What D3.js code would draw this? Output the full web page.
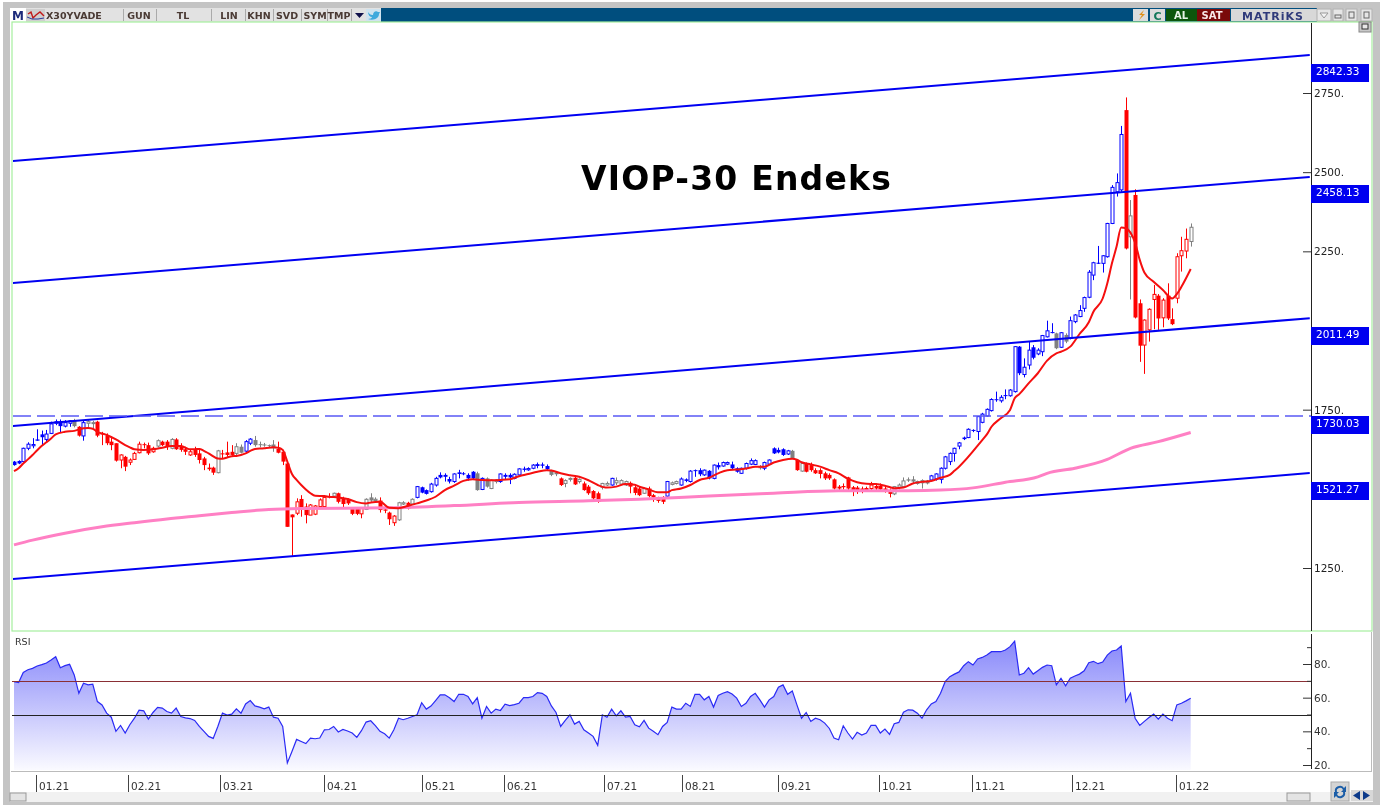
<!DOCTYPE html>
<html>
<head>
<meta charset="utf-8">
<title>VIOP-30 Endeks</title>
<script src="https://cdnjs.cloudflare.com/ajax/libs/d3/7.8.5/d3.min.js"></script>
<style>
    html, body { margin: 0; padding: 0; background: #fff; overflow: hidden; }
    svg { display: block; filter: blur(0.35px); }
    text { font-family: "DejaVu Sans", Verdana, sans-serif; }
</style>
</head>
<body>
<div id="chart"></div>
<script>
// daily candles
var opens = [1586,1588,1586,1628,1636,1656,1672,1656,1675,1707,1712,1698,1707,1717,1696,1667,1707,1707,1712,1675,
    1667,1649,1644,1591,1601,1584,1593,1614,1641,1638,1617,1635,1649,1649,1628,1656,1633,1625,1607,1623,
    1612,1596,1567,1567,1551,1612,1615,1617,1612,1633,1619,1644,1654,1641,1640,1638,1640,1626,1617,1580,
    1419,1423,1468,1444,1417,1420,1444,1444,1477,1477,1486,1470,1465,1438,1438,1421,1435,1473,1463,1463,
    1435,1425,1393,1402,1452,1456,1452,1473,1505,1496,1491,1512,1544,1544,1531,1523,1552,1549,1544,1554,
    1549,1498,1533,1501,1523,1523,1544,1544,1533,1544,1564,1560,1565,1578,1577,1572,1557,1552,1533,1517,
    1530,1535,1523,1517,1507,1493,1486,1505,1512,1512,1519,1515,1512,1519,1505,1501,1486,1501,1480,1470,
    1470,1477,1514,1517,1512,1530,1523,1559,1559,1544,1557,1533,1575,1572,1578,1577,1565,1549,1565,1578,
    1577,1572,1565,1578,1628,1623,1625,1610,1620,1591,1556,1580,1575,1559,1559,1549,1544,1530,1507,1509,
    1536,1505,1504,1501,1498,1501,1509,1509,1501,1496,1484,1505,1507,1530,1530,1517,1519,1526,1528,1531,
    1530,1565,1586,1612,1635,1662,1662,1686,1681,1710,1730,1747,1783,1778,1796,1794,1807,1949,1861,1891,
    1947,1926,1933,1980,1995,1991,1947,1986,1975,2028,2044,2070,2105,2175,2214,2212,2233,2338,2438,2444,
    2696,2296,2428,2086,1954,2002,2098,2110,2040,2110,2036,2102,2236,2251,2281];
var highs = [1588,1590,1630,1647,1660,1688,1684,1686,1712,1719,1719,1717,1717,1721,1698,1715,1717,1715,1715,1680,
    1675,1665,1644,1609,1604,1596,1617,1649,1646,1646,1633,1656,1652,1654,1660,1660,1644,1633,1623,1633,
    1623,1601,1580,1570,1623,1623,1649,1638,1644,1640,1654,1660,1667,1649,1645,1640,1654,1649,1623,1583,
    1419,1470,1480,1454,1452,1449,1470,1475,1486,1488,1488,1475,1470,1438,1441,1438,1470,1486,1473,1473,
    1444,1428,1417,1459,1461,1459,1470,1509,1507,1498,1519,1538,1552,1549,1538,1549,1560,1553,1549,1556,
    1554,1536,1536,1530,1530,1549,1549,1549,1549,1565,1570,1568,1578,1583,1583,1577,1560,1554,1536,1530,
    1536,1538,1533,1523,1512,1496,1491,1519,1523,1535,1536,1530,1526,1523,1512,1509,1505,1507,1484,1475,
    1477,1525,1523,1526,1536,1533,1559,1561,1565,1561,1559,1577,1583,1586,1586,1586,1568,1567,1583,1596,
    1593,1575,1586,1593,1631,1630,1628,1623,1623,1593,1583,1583,1583,1565,1565,1554,1549,1533,1512,1517,
    1538,1509,1509,1507,1507,1522,1517,1517,1507,1501,1509,1517,1536,1536,1540,1526,1530,1528,1544,1549,
    1568,1604,1615,1630,1648,1665,1691,1688,1728,1740,1754,1786,1807,1796,1814,1815,1951,1951,1912,1965,
    1954,1944,1986,2031,2023,1993,1995,1991,2044,2052,2080,2107,2191,2217,2267,2238,2340,2459,2496,2646,
    2736,2412,2446,2098,2035,2070,2144,2115,2102,2149,2070,2244,2296,2322,2338];
var lows = [1573,1578,1584,1622,1628,1652,1635,1649,1673,1701,1677,1694,1696,1694,1665,1652,1691,1691,1663,1638,
    1638,1622,1586,1565,1556,1575,1591,1612,1628,1607,1614,1631,1635,1623,1625,1623,1617,1607,1604,1601,
    1580,1559,1557,1544,1549,1596,1601,1604,1607,1612,1614,1638,1633,1631,1633,1630,1617,1612,1575,1380,
    1288,1417,1412,1391,1417,1417,1442,1442,1470,1475,1454,1438,1449,1417,1417,1407,1433,1459,1458,1425,
    1423,1386,1383,1399,1449,1435,1449,1470,1486,1482,1488,1507,1533,1523,1517,1519,1533,1543,1526,1528,
    1494,1496,1504,1499,1517,1519,1528,1515,1530,1540,1554,1557,1562,1565,1565,1560,1540,1540,1509,1505,
    1523,1512,1517,1494,1481,1465,1456,1498,1509,1510,1512,1512,1509,1486,1480,1477,1484,1473,1459,1456,
    1452,1475,1511,1514,1510,1521,1520,1538,1540,1541,1530,1530,1561,1570,1575,1561,1551,1547,1561,1575,
    1575,1561,1559,1575,1610,1612,1604,1607,1594,1557,1554,1552,1554,1547,1533,1528,1528,1498,1496,1498,
    1496,1477,1484,1486,1494,1496,1496,1491,1488,1473,1480,1498,1504,1522,1515,1513,1501,1514,1526,1526,
    1517,1561,1575,1586,1625,1654,1660,1679,1654,1707,1728,1744,1775,1772,1783,1791,1804,1859,1852,1877,
    1909,1922,1919,1978,1991,1941,1945,1960,1972,2023,2042,2059,2102,2159,2210,2183,2230,2336,2423,2438,
    2256,2098,2038,1901,1863,1965,2004,2002,2010,2033,2017,2086,2186,2228,2265];
var closes = [1575,1580,1628,1641,1640,1652,1663,1673,1705,1712,1698,1709,1715,1698,1668,1709,1712,1709,1668,1672,
    1644,1638,1589,1607,1570,1591,1612,1641,1638,1612,1628,1652,1638,1633,1656,1625,1623,1617,1617,1607,
    1591,1575,1562,1551,1620,1609,1607,1607,1633,1614,1649,1657,1638,1638,1637,1635,1628,1614,1586,1380,
    1410,1459,1438,1417,1449,1446,1465,1473,1473,1486,1459,1452,1454,1421,1421,1438,1467,1463,1467,1433,
    1431,1404,1414,1456,1456,1438,1467,1507,1488,1484,1515,1533,1536,1538,1523,1547,1547,1546,1533,1533,
    1496,1533,1507,1528,1528,1547,1538,1536,1546,1563,1560,1564,1575,1572,1573,1562,1544,1546,1512,1526,
    1533,1514,1530,1496,1486,1470,1459,1517,1517,1533,1526,1526,1523,1507,1487,1480,1501,1477,1473,1462,
    1459,1523,1519,1523,1531,1525,1556,1556,1546,1559,1533,1575,1568,1583,1583,1565,1554,1565,1580,1589,
    1589,1565,1583,1591,1612,1615,1607,1620,1596,1559,1580,1554,1559,1549,1547,1533,1533,1501,1501,1505,
    1501,1494,1496,1496,1501,1512,1501,1498,1491,1484,1507,1512,1525,1526,1523,1523,1526,1517,1541,1547,
    1565,1601,1612,1628,1645,1657,1688,1683,1728,1736,1751,1782,1780,1789,1793,1812,1949,1865,1884,1938,
    1914,1938,1984,1999,1992,1944,1993,1965,2031,2049,2063,2104,2184,2214,2212,2236,2338,2452,2467,2619,
    2259,2362,2041,1952,2033,2067,2114,2038,2096,2038,2020,2233,2252,2288,2326];
// b = blue, g = gray, r = red candle
var trend = ('bbbbbbbbbb' + 'bbbgrbggrr' + 'rrrrrrrrrr' + 'rgrrgrrrrr' + 'rrrrgrrrgg' + 'bbgggggrrr'
    + 'rrrrrrrrrg' + 'rrrrrrgggr' + 'rrrggrgbbb' + 'bbbbbbbbbb' + 'gbgggbbbbb' + 'bbbbbbggrg'
    + 'grgrrrrggb' + 'gggrrrgrrr' + 'rbggbbbbbb' + 'bbbbbbbbbb' + 'bgbbbbbbgr' + 'grrrrrrrrr'
    + 'rrrrrrrrrr' + 'ggggggggbb' + 'bbbbbbbbbb' + 'bbbbbbbbbb' + 'bbbbbgbgbb' + 'bbbbbbbbbb'
    + 'rgrrrrrrrr' + 'rrrrg').split('');

// red moving average: bar number + value
var fastBars = [0,1,2,3,4,5,6,7,8,9,11,13,15,16,17,18,20,22,24,25,26,28,30,32,34,36,37,38,39,40,41,42,44,45,46,47,48,49,50,51,52,54,55,56,57,58,59,60,61,62,63,64,65,
    67,68,70,72,74,76,77,79,81,83,85,87,89,91,93,95,97,99,101,103,105,107,109,111,113,115,116,118,120,122,124,126,128,130,132,134,
    135,137,139,141,142,144,146,148,150,152,154,156,158,160,162,164,166,168,169,170,172,174,176,178,180,182,184,186,188,190,192,194,196,198,200,202,203,204,
    209,210,211,213,215,216,217,219,221,223,225,226,228,230,232,233,235,236,237,238,239,240,241,242,243,244,246,248,250,251,252,254];
var fastValues = [1556,1565,1580,1593,1607,1622,1636,1647,1659,1672,1680,1683,1691,1692,1690,1680,1670,1656,1638,1631,1625,1623,1625,1630,1635,1635,1630,1625,1625,1626,1620,1612,1596,1595,1599,1603,1604,1607,1612,1620,1626,1628,1630,1631,1630,1623,1586,1547,1528,1512,1498,1486,1478,
    1477,1475,1473,1468,1458,1454,1457,1459,1440,1439,1446,1454,1463,1475,1496,1510,1525,1530,1528,1527,1528,1530,1540,1547,1554,1559,1558,1549,1543,1538,1527,1512,1504,1507,1515,1513,
    1507,1498,1489,1489,1496,1501,1512,1528,1535,1549,1559,1561,1564,1570,1570,1583,1591,1595,1592,1584,1577,1570,1559,1549,1532,1521,1516,1515,1510,1502,1504,1517,1522,1525,1535,1544,1557,1570,
    1654,1672,1696,1723,1749,1786,1799,1833,1865,1905,1928,1933,1949,1989,2026,2059,2101,2149,2212,2265,2325,2323,2309,2277,2223,2183,2154,2128,2101,2115,2138,2194];

// pink moving average
var slowBars = [0,4,11,19,26,33,40,47,55,62,81,95,109,124,135,150,164,178,193,200,207,214,221,223,229,236,241,247,254];
var slowValues = [1323,1338,1360,1380,1393,1405,1415,1425,1435,1438,1440,1447,1457,1462,1467,1477,1486,1494,1494,1496,1503,1521,1538,1549,1565,1593,1628,1649,1678];

// channel lines: value at left and right edge of the plot
var channelBars = [-0.3, 279.7];
var channelStart = [2535, 2150, 1698, 1215];
var channelEnd = [2870, 2485, 2039, 1550];
var flatLevel = 1730.03;
var priceLabels = [2842.33, 2458.13, 2011.49, 1730.03, 1521.27];
var priceTicks = [1250, 1750, 2250, 2500, 2750];

var rsiValues = [69.5,69,75,76.6,77.4,78.8,79.6,80.6,82.4,84.3,
    77.8,79,79.8,73.5,62.6,68.6,67.6,68,57.7,55.7,
    50.8,48.4,40,43.5,39,43.9,47.8,52.6,52.2,47.3,
    51.2,54.2,53.8,51.8,50.8,53.8,48.8,48,47.6,46.5,
    42.9,40,37,35.8,42.9,50.8,49.6,50.2,53.4,50.8,
    56.3,58.3,55.1,54.4,53.4,54.4,48.4,47.8,42.9,21.2,
    28,35.2,34,32.7,36,35.6,36,40.9,41.1,42.9,
    39.6,41.1,40.2,39,36.4,40.4,45.5,46.3,43.4,40,
    38.6,36,40.9,47.8,46.9,47.8,48.8,49.8,57,53.2,
    55,58.3,61.7,61.7,60,57.7,62,
    62,60.7,56.3,60,47.8,54.8,50.8,53.2,52.4,56.1,
    55.3,55.9,56.7,60,60,60.7,63,62.6,60.7,55.1,
    51.2,42.9,46.5,49.8,44.3,45.9,40.9,39,37,31.7,
    49.8,48.4,53.2,49.2,52.2,48.4,48.8,43.9,42.7,46.5,
    41.9,40,38,42.9,45.3,54.4,53.2,53.2,56.7,54.8,
    62,62,58.7,60.7,54.4,61.3,62.6,63.6,62.2,59.7,
    54.8,56.7,60.7,62.6,58.7,54.4,58.7,60.7,66.2,67.6,
    62,64,55.7,47.8,51.2,45.9,47.8,46.9,44.9,41.7,
    36,35,43.3,39,35.4,39.4,37.8,39,43.5,43.5,
    39,41.3,38.2,44.5,45.3,51.4,52.8,52.6,50.8,
    47.8,52.8,56.3,57.7,62.6,69.5,72.5,74,75.3,79,
    81.4,79.4,83,83.9,85.3,87.3,87.3,87.3,88.3,90.3,
    93.6,73.5,74.5,77.8,74,76,78,79.4,79,67.6,
    71.5,67,71.5,72.9,74,76,80.8,81.6,80.2,81.2,
    85.3,87.7,88.3,90.7,57.7,62.6,47.8,43.5,45.9,48.2,
    50.2,47.3,50.2,47.8,46.3,55.7,56.7,58.1,59.7];
var rsiLevels = [70, 50];
var rsiTicks = [20, 30, 40, 50, 60, 70, 80, 90];

// month labels and the bar each one sits on
var monthLabels = ['01.21','02.21','03.21','04.21','05.21','06.21','07.21','08.21','09.21','10.21','11.21','12.21','01.22'];
var monthBars = [4.8,24.5,44.4,67,88,105.7,127.4,144.3,165,186.8,206.7,228.3,250.8];

var W = 1383, H = 805;
var plot = { left: 13, right: 1311, top: 23, bottom: 631 };
var rsiBox = { top: 632, bottom: 771 };

var svg = d3.select('#chart').append('svg').attr('width', W).attr('height', H);

var x = d3.scaleLinear().domain([0, 254]).range([14, 1190.7]);
var y = d3.scaleLinear().domain([1250, 2750]).range([568, 93]);
var yRsi = d3.scaleLinear().domain([20, 80]).range([765, 664]);

var colors = { b: '#0000ff', g: '#808080', r: '#ff0000' };

drawFrame();

// clip for everything inside the price panel
svg.append('clipPath').attr('id', 'plot-clip').append('rect')
    .attr('x', plot.left).attr('y', plot.top)
    .attr('width', plot.right - plot.left).attr('height', plot.bottom - plot.top);
var main = svg.append('g').attr('clip-path', 'url(#plot-clip)');

// candles: hollow when the close is above the open
var candles = main.append('g').selectAll('g').data(d3.range(opens.length)).enter().append('g');
candles.append('line')
    .attr('x1', function(i){ return Math.round(x(i)) + 0.5; })
    .attr('x2', function(i){ return Math.round(x(i)) + 0.5; })
    .attr('y1', function(i){ return y(highs[i]); })
    .attr('y2', function(i){ return y(lows[i]); })
    .attr('stroke', function(i){ return colors[trend[i]]; });
candles.append('rect')
    .attr('x', function(i){ return Math.round(x(i)) - (closes[i] >= opens[i] ? 1 : 1.5); })
    .attr('width', function(i){ return closes[i] >= opens[i] ? 3 : 4; })
    .attr('y', function(i){ return y(Math.max(opens[i], closes[i])); })
    .attr('height', function(i){ return Math.max(1, Math.abs(y(opens[i]) - y(closes[i]))); })
    .attr('fill', function(i){ return closes[i] >= opens[i] ? '#fff' : colors[trend[i]]; })
    .attr('stroke', function(i){ return closes[i] >= opens[i] ? colors[trend[i]] : 'none'; });

var maLine = d3.line()
    .curve(d3.curveMonotoneX)
    .x(function(d){ return x(d[0]); })
    .y(function(d){ return y(d[1]); });

main.append('path')
    .datum(d3.zip(slowBars, slowValues))
    .attr('fill', 'none').attr('stroke', '#ff80c4').attr('stroke-width', 3)
    .attr('d', maLine);
main.append('path')
    .datum(d3.zip(fastBars, fastValues))
    .attr('fill', 'none').attr('stroke', '#f50f0f').attr('stroke-width', 2)
    .attr('d', maLine);

// rising channel and the flat dashed level
channelStart.forEach(function(v, i){
    main.append('line')
        .attr('x1', x(channelBars[0])).attr('y1', y(v))
        .attr('x2', x(channelBars[1])).attr('y2', y(channelEnd[i]))
        .attr('stroke', '#0000f2').attr('stroke-width', 2);
});
main.append('line')
    .attr('x1', plot.left).attr('x2', plot.right)
    .attr('y1', y(flatLevel)).attr('y2', y(flatLevel))
    .attr('stroke', '#5a5af5').attr('stroke-width', 1.3).attr('stroke-dasharray', '18 6');

svg.append('text')
    .attr('x', 581).attr('y', 190)
    .attr('font-size', 33).attr('font-weight', 'bold').attr('letter-spacing', 1.2).attr('fill', '#000')
    .text('VIOP-30 Endeks');

// price axis
var yAxis = d3.axisRight(y).tickValues(priceTicks).tickSize(-8).tickPadding(3)
    .tickFormat(function(d){ return d + '.'; });
var yG = svg.append('g').attr('transform', 'translate(' + plot.right + ',0)').call(yAxis);
yG.select('.domain').attr('d', 'M0.5,' + plot.top + 'V' + plot.bottom).attr('stroke', '#222');
yG.selectAll('text').attr('font-size', 10.5).attr('fill', '#222').attr('font-family', '"DejaVu Sans"');
yG.selectAll('line').attr('stroke', '#333');

// blue value boxes
var boxes = svg.append('g').selectAll('g').data(priceLabels).enter().append('g')
    .attr('transform', function(d){ return 'translate(' + plot.right + ',' + Math.round(y(d)) + ')'; });
boxes.append('rect').attr('width', 58).attr('height', 18).attr('fill', '#0000f0');
boxes.append('text').attr('x', 5).attr('y', 11)
    .attr('fill', '#fff').attr('font-size', 10.5)
    .text(function(d){ return d.toFixed(2); });

// RSI panel
var grad = svg.append('defs').append('linearGradient').attr('id', 'rsi-fill')
    .attr('gradientUnits', 'userSpaceOnUse')
    .attr('x1', 0).attr('x2', 0).attr('y1', yRsi(92)).attr('y2', rsiBox.bottom);
grad.append('stop').attr('offset', 0).attr('stop-color', '#8a8afa');
grad.append('stop').attr('offset', 1).attr('stop-color', '#fbfbff');

var rsiArea = d3.area()
    .x(function(d, i){ return x(i); })
    .y0(rsiBox.bottom - 1)
    .y1(function(d){ return yRsi(d); });
var rsiLine = d3.line()
    .x(function(d, i){ return x(i); })
    .y(function(d){ return yRsi(d); });

svg.append('path').datum(rsiValues).attr('fill', 'url(#rsi-fill)').attr('d', rsiArea);
svg.append('path').datum(rsiValues).attr('fill', 'none')
    .attr('stroke', '#2a2af5').attr('stroke-width', 1.2).attr('d', rsiLine);

rsiLevels.forEach(function(v, i){
    svg.append('line')
        .attr('x1', plot.left - 1).attr('x2', plot.right)
        .attr('y1', Math.round(yRsi(v)) + 0.5).attr('y2', Math.round(yRsi(v)) + 0.5)
        .attr('stroke', i === 0 ? '#8a2f35' : '#222');
});

svg.append('text').attr('x', 15).attr('y', 645)
    .attr('font-size', 9.5).attr('fill', '#333').text('RSI');

var rsiAxis = d3.axisRight(yRsi).tickValues(rsiTicks).tickSize(0).tickPadding(3)
    .tickFormat(function(d){ return d % 20 === 0 ? d + '.' : ''; });
var rG = svg.append('g').attr('transform', 'translate(' + plot.right + ',0)').call(rsiAxis);
rG.select('.domain').attr('d', 'M0.5,' + (rsiBox.top + 2) + 'V' + (rsiBox.bottom - 2)).attr('stroke', '#222');
rG.selectAll('text').attr('font-size', 10.5).attr('fill', '#333').attr('font-family', '"DejaVu Sans"');
rG.selectAll('line')
    .attr('x1', function(d){ return d % 20 === 0 ? -8 : -4; })
    .attr('x2', 0).attr('stroke', '#333');

// month axis
var months = svg.append('g').selectAll('g').data(monthLabels).enter().append('g')
    .attr('transform', function(d, i){ return 'translate(' + (Math.round(x(monthBars[i])) + 0.5) + ',0)'; });
months.append('line').attr('y1', 775).attr('y2', 792).attr('stroke', '#444');
months.append('text').attr('x', 2.5).attr('y', 790)
    .attr('font-size', 10.5).attr('fill', '#333')
    .text(function(d){ return d; });

function drawFrame() {
    // window body
    svg.append('rect').attr('width', W).attr('height', H).attr('fill', '#fff');
    svg.append('rect').attr('x', 3).attr('y', 2).attr('width', 1377).attr('height', 803).attr('fill', '#c4c4c4');
    svg.append('rect').attr('x', 10).attr('y', 8).attr('width', 1363).attr('height', 795).attr('fill', '#fff');

    // title bar
    svg.append('rect').attr('x', 10).attr('y', 8).attr('width', 1363).attr('height', 14).attr('fill', '#004e7e');
    svg.append('rect').attr('x', 10).attr('y', 8).attr('width', 16).attr('height', 14).attr('fill', '#fff');
    svg.append('rect').attr('x', 26).attr('y', 8).attr('width', 355).attr('height', 14).attr('fill', '#e2e2e2');

    var tabs = [
        { label: 'X30YVADE', a: 45, b: 123, t: 46, anchor: 'start' },
        { label: 'GUN', a: 124, b: 156, t: 139 },
        { label: 'TL', a: 157, b: 211, t: 183 },
        { label: 'LIN', a: 213, b: 245, t: 229 },
        { label: 'KHN', a: 246, b: 273, t: 259 },
        { label: 'SVD', a: 274, b: 301, t: 287 },
        { label: 'SYM', a: 302, b: 327, t: 315 },
        { label: 'TMP', a: 328, b: 351, t: 339 }
    ];
    tabs.forEach(function(t){
        svg.append('rect').attr('x', t.a).attr('y', 9).attr('width', t.b - t.a).attr('height', 12).attr('fill', '#e2e2e2');
        svg.append('line').attr('x1', t.b + 0.5).attr('x2', t.b + 0.5).attr('y1', 9).attr('y2', 21).attr('stroke', '#aaa');
        svg.append('text').attr('x', t.t).attr('y', 19)
            .attr('text-anchor', t.anchor || 'middle')
            .attr('font-size', 9.5).attr('font-weight', 'bold').attr('fill', '#4a3a34')
            .text(t.label);
    });
    svg.append('text').attr('x', 12).attr('y', 20).attr('font-size', 12).attr('font-weight', 'bold').attr('fill', '#1c2a7a').text('M');
    // small chart icon
    svg.append('rect').attr('x', 26).attr('y', 9).attr('width', 19).attr('height', 12).attr('fill', '#cfcfcf');
    svg.append('path').attr('d', 'M28,14 L31,12 L33,18 L36,15 L40,12 L44,16').attr('fill', 'none').attr('stroke', '#c01818').attr('stroke-width', 1.4);
    svg.append('path').attr('d', 'M27,17 L32,19 L38,19 L44,18').attr('fill', 'none').attr('stroke', '#283a9a').attr('stroke-width', 1);
    // dropdown and bird
    svg.append('path').attr('d', 'M355,13 L364,13 L359.5,18 Z').attr('fill', '#10104a');
    svg.append('rect').attr('x', 366).attr('y', 9).attr('width', 15).attr('height', 12).attr('fill', '#cfe3ef');
    svg.append('path').attr('d', 'M368,12 C370,15 372,15 373,15 C373,12 376,10 378,12 L380,12 L379,14 C379,18 374,21 368,19 C370,19 372,18 372,17 C370,17 368,15 368,12 Z').attr('fill', '#3fa9dc');

    // right hand buttons
    svg.append('rect').attr('x', 1133).attr('y', 9).attr('width', 15).attr('height', 12).attr('fill', '#dcdcdc');
    svg.append('path').attr('d', 'M1144,10 L1139,15 L1142,15 L1139,20 L1145,14 L1142,14 Z').attr('fill', '#e09018');
    svg.append('rect').attr('x', 1150).attr('y', 9).attr('width', 15).attr('height', 12).attr('fill', '#dcdcdc');
    svg.append('text').attr('x', 1157.5).attr('y', 19.5).attr('text-anchor', 'middle').attr('font-size', 11).attr('font-weight', 'bold').attr('fill', '#12785a').text('C');
    svg.append('rect').attr('x', 1166).attr('y', 9).attr('width', 31).attr('height', 12).attr('fill', '#0c560c');
    svg.append('text').attr('x', 1181).attr('y', 19).attr('text-anchor', 'middle').attr('font-size', 10).attr('font-weight', 'bold').attr('fill', '#e8f4e8').text('AL');
    svg.append('rect').attr('x', 1197).attr('y', 9).attr('width', 33).attr('height', 12).attr('fill', '#7a0a0a');
    svg.append('text').attr('x', 1212).attr('y', 19).attr('text-anchor', 'middle').attr('font-size', 10).attr('font-weight', 'bold').attr('fill', '#f8e8e8').text('SAT');
    svg.append('rect').attr('x', 1231).attr('y', 9).attr('width', 86).attr('height', 12).attr('fill', '#d8d8d8');
    svg.append('text').attr('x', 1273).attr('y', 19.5).attr('text-anchor', 'middle').attr('font-size', 11).attr('font-weight', 'bold').attr('letter-spacing', 1).attr('fill', '#2f3a7a').text('MATRiKS');
    svg.append('rect').attr('x', 1317).attr('y', 8).attr('width', 56).attr('height', 14).attr('fill', '#c8c8c8');
    [[1317, 14], [1333, 10], [1346, 11], [1361, 11]].forEach(function(b){
        svg.append('rect').attr('x', b[0]).attr('y', 9).attr('width', b[1]).attr('height', 12).attr('fill', '#e6e6e6').attr('stroke', '#b0b0b0');
    });
    svg.append('path').attr('d', 'M1320,13 L1328,13 L1324,18 Z').attr('fill', '#f4f4f4').attr('stroke', '#999');
    svg.append('rect').attr('x', 1335).attr('y', 15).attr('width', 6).attr('height', 3).attr('fill', 'none').attr('stroke', '#666');
    svg.append('rect').attr('x', 1349).attr('y', 12).attr('width', 5).attr('height', 6).attr('fill', 'none').attr('stroke', '#666');
    svg.append('rect').attr('x', 1364).attr('y', 12).attr('width', 5).attr('height', 6).attr('fill', 'none').attr('stroke', '#666');

    // panel borders
    svg.append('rect').attr('x', 12).attr('y', 22).attr('width', 1360).attr('height', 609)
        .attr('fill', '#fff').attr('stroke', '#a6ee9e').attr('stroke-width', 1.2);
    svg.append('rect').attr('x', 1359).attr('y', 22).attr('width', 12).attr('height', 10).attr('fill', '#c8c8c8').attr('stroke', '#888');
    svg.append('rect').attr('x', 1362).attr('y', 24).attr('width', 6).attr('height', 5).attr('fill', '#e8e8e8').attr('stroke', '#333');
    svg.append('line').attr('x1', 11).attr('x2', 1372).attr('y1', 771.5).attr('y2', 771.5).attr('stroke', '#bbb');
    svg.append('line').attr('x1', 1371.5).attr('x2', 1371.5).attr('y1', 632).attr('y2', 771).attr('stroke', '#bbb');

    // bottom scroll strip
    svg.append('rect').attr('x', 10).attr('y', 792).attr('width', 1363).attr('height', 10).attr('fill', '#f1f1f1');
    svg.append('rect').attr('x', 3).attr('y', 802).attr('width', 1377).attr('height', 3).attr('fill', '#c4c4c4');
    svg.append('rect').attr('x', 10).attr('y', 793).attr('width', 16).attr('height', 8).attr('fill', '#e4e4e4').attr('stroke', '#999');
    svg.append('rect').attr('x', 1287).attr('y', 793).attr('width', 23).attr('height', 8).attr('fill', '#e4e4e4').attr('stroke', '#999');
    svg.append('rect').attr('x', 1331).attr('y', 782).attr('width', 18).attr('height', 19).attr('fill', '#d4d4d4').attr('stroke', '#aaa');
    svg.append('path').attr('d', 'M1335,792 A5,5 0 0,1 1344,788 L1346,786 L1346,792 L1341,792 L1343,790 A3,3 0 0,0 1337,792 Z M1345,792 A5,5 0 0,1 1336,796 L1334,798 L1334,792 L1339,792 L1337,794 A3,3 0 0,0 1343,792 Z').attr('fill', '#1c5ea8');
    svg.append('rect').attr('x', 1351).attr('y', 790).attr('width', 22).attr('height', 11).attr('fill', '#d8d8d8');
    svg.append('path').attr('d', 'M1353,795.5 L1360,791 L1360,800 Z M1370,795.5 L1363,791 L1363,800 Z').attr('fill', '#0c3a8a');
}
</script>
</body>
</html>
